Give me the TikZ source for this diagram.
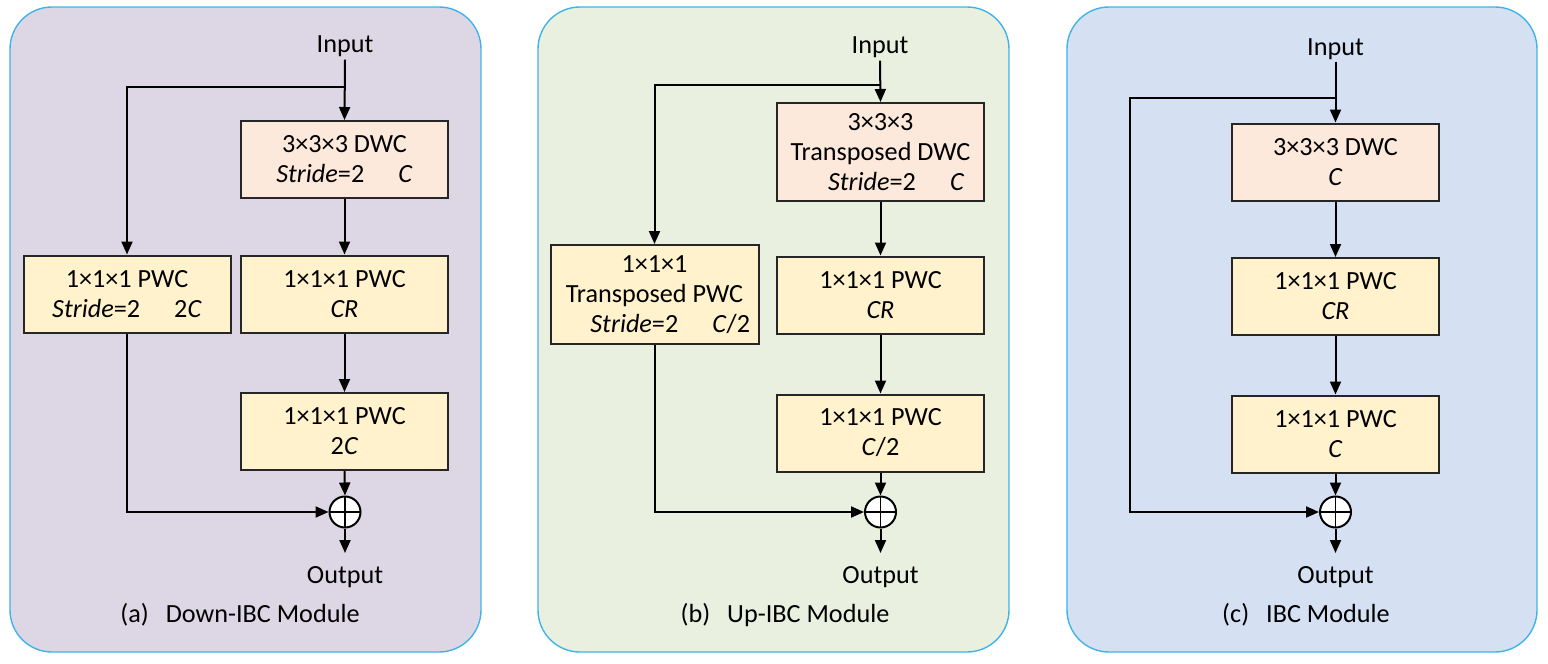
\documentclass[tikz,border=0pt]{standalone}
\usepackage{fontspec}
\setmainfont{Carlito}
\usetikzlibrary{arrows.meta}
\definecolor{pa}{RGB}{221,215,229}
\definecolor{pb}{RGB}{234,240,224}
\definecolor{pc}{RGB}{213,225,243}
\definecolor{bord}{RGB}{64,180,230}
\definecolor{peach}{RGB}{252,233,220}
\definecolor{cream}{RGB}{255,242,204}
\tikzset{
  panel/.style={draw=bord, line width=0.7pt, rounded corners=21pt},
  blk/.style={draw=black!85, line width=1pt, align=center, inner sep=0pt,
    minimum width=103.5pt, minimum height=38.5pt, font=\fontsize{13.1}{15}\selectfont},
  dwc/.style={blk, fill=peach},
  pwc/.style={blk, fill=cream},
  lbl/.style={font=\fontsize{13.1}{15}\selectfont, inner sep=1pt, anchor=base},
  arr/.style={-{Triangle[length=6.5pt,width=5.5pt]}, line width=1pt},
  ln/.style={line width=1pt},
  plus/.style={circle, draw, fill=white, line width=1pt, minimum size=15.5pt, inner sep=0pt,
    path picture={\draw[line width=0.7pt] (path picture bounding box.north) -- (path picture bounding box.south)
      (path picture bounding box.west) -- (path picture bounding box.east);}}
}
\newcommand{\sgap}{\hspace{1.3em}}
\newcommand{\cgap}{\hspace{0.65em}}
\begin{document}
\begin{tikzpicture}[x=0.5pt,y=-0.5pt]
\useasboundingbox (0,0) rectangle (1548,664);
% panels
\draw[panel, fill=pa] (10,7) rectangle (481,652);
\draw[panel, fill=pb] (538,7) rectangle (1009,652);
\draw[panel, fill=pc] (1067,7) rectangle (1537,652);

% ---------- (a) ----------
\node[lbl] (inA) at (345,53) {Input};
\node[dwc] (dwcA) at (344.5,159.5) {3×3×3 DWC\\\textit{Stride}=2\sgap\textit{C}};
\node[pwc] (crA) at (344.5,294) {1×1×1 PWC\\\textit{CR}};
\node[pwc] (oA) at (344.5,431.5) {1×1×1 PWC\\2\textit{C}};
\node[pwc] (lA) at (127,294) {1×1×1 PWC\\\textit{Stride}=2\sgap2\textit{C}};
\node[plus] (pA) at (345,512) {};
\coordinate (jA) at (345,87);
\coordinate (eA) at (345,553);
\node[lbl] (outA) at (345,583) {Output};
\node[lbl] (capA) at (240,622) {(a)\cgap Down-IBC Module};
\draw[arr] (inA.south) -- (dwcA.north);
\draw[arr] (jA) -| (lA.north);
\draw[arr] (dwcA.south) -- (crA.north);
\draw[arr] (crA.south) -- (oA.north);
\draw[arr] (oA.south) -- (pA.north);
\draw[arr] (lA.south) |- (pA.west);
\draw[arr] (pA.south) -- (eA);

% ---------- (b) ----------
\node[lbl] (inB) at (880,54) {Input};
\node[dwc, minimum height=49pt] (dwcB) at (880.5,152) {3×3×3\\Transposed DWC\\\hspace*{1.2em}\textit{Stride}=2\sgap\textit{C}};
\node[pwc] (crB) at (880.5,295) {1×1×1 PWC\\\textit{CR}};
\node[pwc] (oB) at (880.5,433) {1×1×1 PWC\\\textit{C}/2};
\node[pwc, minimum width=104pt, minimum height=49.5pt] (lB) at (654.5,294.5) {1×1×1\\Transposed PWC\\\hspace*{1.2em}\textit{Stride}=2\sgap\textit{C}/2};
\node[plus] (pB) at (880.5,512) {};
\coordinate (jB) at (880.5,85);
\coordinate (eB) at (880.5,553);
\node[lbl] (outB) at (880.5,583) {Output};
\node[lbl] (capB) at (785,622) {(b)\cgap Up-IBC Module};
\draw[arr] (inB.south) -- (dwcB.north);
\draw[arr] (jB) -| (lB.north);
\draw[arr] (dwcB.south) -- (crB.north);
\draw[arr] (crB.south) -- (oB.north);
\draw[arr] (oB.south) -- (pB.north);
\draw[arr] (lB.south) |- (pB.west);
\draw[arr] (pB.south) -- (eB);

% ---------- (c) ----------
\node[lbl] (inC) at (1335.5,55) {Input};
\node[dwc] (dwcC) at (1335.5,162) {3×3×3 DWC\\\textit{C}};
\node[pwc] (crC) at (1335.5,296.5) {1×1×1 PWC\\\textit{CR}};
\node[pwc] (oC) at (1335.5,434) {1×1×1 PWC\\\textit{C}};
\node[plus] (pC) at (1335.5,512) {};
\coordinate (jC) at (1335.5,98);
\coordinate (kC) at (1130,98);
\coordinate (eC) at (1335.5,553);
\node[lbl] (outC) at (1335.5,583) {Output};
\node[lbl] (capC) at (1306,622) {(c)\cgap IBC Module};
\draw[arr] (inC.south) -- (dwcC.north);
\draw[arr] (dwcC.south) -- (crC.north);
\draw[arr] (crC.south) -- (oC.north);
\draw[arr] (oC.south) -- (pC.north);
\draw[arr] (jC) -- (kC) |- (pC.west);
\draw[arr] (pC.south) -- (eC);
\end{tikzpicture}
\end{document}
